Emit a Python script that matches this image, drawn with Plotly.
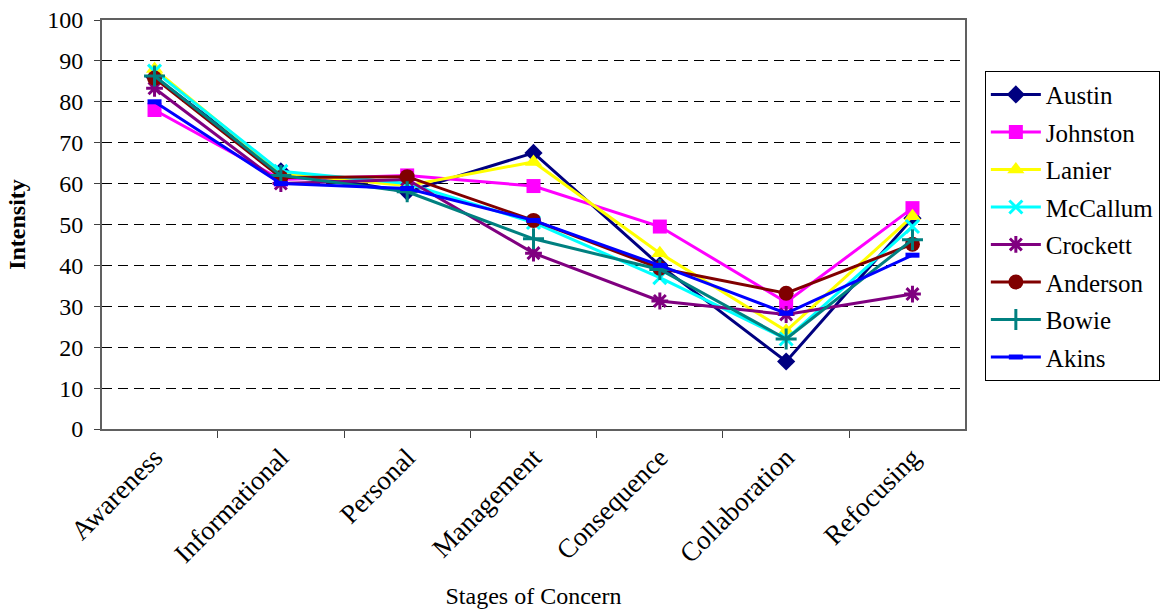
import plotly.graph_objects as go

# Stages of Concern profiles (intensity percentiles) per participant
stages = ["Awareness", "Informational", "Personal", "Management",
          "Consequence", "Collaboration", "Refocusing"]

austin = [86, 63, 58, 67.5, 40, 16.5, 51.5]
johnston = [78, 61, 62, 59.4, 49.5, 31, 54]
lanier = [88, 62.5, 59.5, 65.3, 43, 24, 52]
mccallum = [87.5, 63, 60, 50.5, 37, 22, 49.5]
crockett = [83.3, 60, 61, 43, 31.3, 28, 33]
anderson = [85.8, 61.5, 61.7, 51, 39.3, 33.2, 45.2]
bowie = [86.3, 62, 58, 46.5, 39, 22, 46.3]
akins = [80, 60, 58.8, 51, 40, 28.3, 42.5]

series = [
    ("Austin", austin, "#000080", "diamond", 14, None),
    ("Johnston", johnston, "#FF00FF", "square", 14, None),
    ("Lanier", lanier, "#FFFF00", "triangle-up", 15, None),
    ("McCallum", mccallum, "#00FFFF", "x-thin", 13, 3),
    ("Crockett", crockett, "#800080", "asterisk", 14, 3),
    ("Anderson", anderson, "#800000", "circle", 15, None),
    ("Bowie", bowie, "#008080", "cross-thin", 15, 3),
    ("Akins", akins, "#0000FF", "line-ew", 10, 5),
]

FONT = "Liberation Serif, Times New Roman, serif"

fig = go.Figure()
for name, vals, color, symbol, size, lw in series:
    marker = dict(symbol=symbol, size=size, color=color)
    if lw:
        marker["line"] = dict(color=color, width=lw)
    else:
        marker["line"] = dict(width=0)
    fig.add_trace(go.Scatter(
        x=stages, y=vals, name=name, mode="lines+markers",
        line=dict(color=color, width=3), marker=marker,
        legendgroup=name,
    ))

fig.update_layout(
    width=1165, height=609,
    margin=dict(l=102, r=200, t=20, b=180, autoexpand=False),
    paper_bgcolor="white", plot_bgcolor="white",
    font=dict(family=FONT, size=24, color="black"),
    showlegend=True,
    legend=dict(
        x=1.023, xanchor="left", y=0.876, yanchor="top",
        bordercolor="black", borderwidth=1, bgcolor="white",
        font=dict(family=FONT, size=25, color="black"),
        tracegroupgap=2, itemwidth=50,
    ),
)

fig.update_xaxes(
    type="category", tickson="boundaries", ticks="outside", ticklen=7,
    tickcolor="#404040", tickangle=-45, automargin=False,
    tickfont=dict(family=FONT, size=27),
    showline=True, linecolor="#606060", linewidth=2, mirror=True,
    showgrid=False,
    title=dict(text="Stages of Concern", font=dict(family=FONT, size=24),
               standoff=20),
)

fig.update_yaxes(
    range=[0, 100], dtick=10, ticks="outside", ticklen=6,
    tickcolor="#404040", automargin=False, ticklabelstandoff=6,
    showline=True, linecolor="#606060", linewidth=2, mirror=True,
    showgrid=True, gridcolor="black", gridwidth=1, griddash="10px,6px",
    zeroline=False,
    title=dict(text="<b>Intensity</b>", font=dict(family=FONT, size=24)),
)

fig.write_html("out.html")
